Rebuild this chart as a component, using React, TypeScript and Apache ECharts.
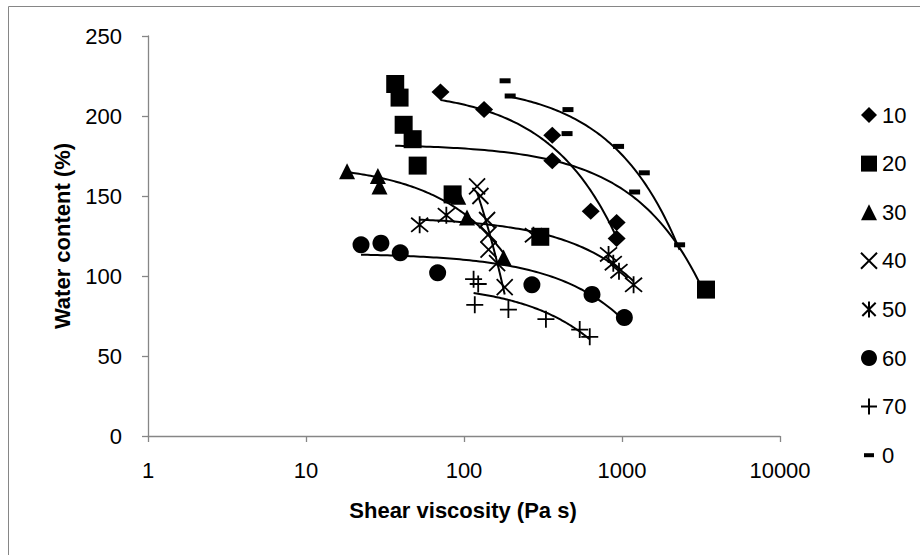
import React, { useEffect, useRef } from "react";
import * as echarts from "echarts";

// ---- data ----
const seriesNames = ["10", "20", "30", "40", "50", "60", "70", "0"];

const s10x = [71, 134, 362, 362, 634, 925, 925];
const s10y = [215, 204, 188, 172, 140.5, 133.5, 123.5];

const s20x = [36.7, 39.1, 41.5, 47.3, 50.9, 84.7, 304, 3400];
const s20y = [220, 211.5, 194.5, 185.5, 169, 151, 124.5, 91.5];

const s30x = [18.2, 28.5, 29.2, 92, 104.5, 178];
const s30y = [165.5, 162.5, 156, 149.5, 136.5, 111.5];

const s40x = [121, 127, 140, 143, 143, 162, 181];
const s40y = [156, 150, 135, 126, 116.5, 108, 93];

const s50x = [52.4, 77.3, 275, 822, 881, 957, 1184];
const s50y = [132, 138, 125.5, 113.5, 108, 103, 94.5];

const s60x = [22.3, 29.8, 39.5, 68.1, 269, 646, 1035];
const s60y = [119.5, 120.5, 114.5, 102, 94.5, 88.5, 74];

const s70x = [115, 123, 117, 191, 330, 540, 625];
const s70y = [98, 95, 82, 79, 73, 66.5, 62];

const s0x = [182, 196, 455, 449, 951, 1384, 1202, 2315];
const s0y = [222, 212.5, 204, 189, 181, 164.5, 152.5, 119.5];

const yTicks = [0, 50, 100, 150, 200, 250];
const xTitle = "Shear viscosity (Pa s)";
const yTitle = "Water content (%)";

const FONT = "'Liberation Sans', Arial, sans-serif";

const X_PATH = "path://M0,0L10,10M10,0L0,10";
const AST_PATH = "path://M0,0L10,10M10,0L0,10M5,-1L5,11";
const PLUS_PATH = "path://M5,0L5,10M0,5L10,5";

type Def = { name: string; xs: number[]; ys: number[]; symbol: string; size: any; stroke?: boolean; icon?: string };

const defs: Def[] = [
  { name: seriesNames[0], xs: s10x, ys: s10y, symbol: "diamond", size: [18, 17] },
  { name: seriesNames[1], xs: s20x, ys: s20y, symbol: "rect", size: 18 },
  { name: seriesNames[2], xs: s30x, ys: s30y, symbol: "triangle", size: 16 },
  { name: seriesNames[3], xs: s40x, ys: s40y, symbol: X_PATH, size: 16, stroke: true },
  { name: seriesNames[4], xs: s50x, ys: s50y, symbol: AST_PATH, size: 17, stroke: true },
  { name: seriesNames[5], xs: s60x, ys: s60y, symbol: "circle", size: 17 },
  { name: seriesNames[6], xs: s70x, ys: s70y, symbol: PLUS_PATH, size: 17, stroke: true },
  { name: seriesNames[7], xs: s0x, ys: s0y, symbol: "rect", size: [11, 5], icon: "path://M0,0M16,16M3,6H13V10H3Z" },
];

// least-squares linear trendline (as in a spreadsheet's linear trendline)
function fit(xs: number[], ys: number[]) {
  const n = xs.length;
  const mx = xs.reduce((a, b) => a + b, 0) / n;
  const my = ys.reduce((a, b) => a + b, 0) / n;
  let sxy = 0, sxx = 0;
  for (let i = 0; i < n; i++) {
    sxy += (xs[i] - mx) * (ys[i] - my);
    sxx += (xs[i] - mx) * (xs[i] - mx);
  }
  const b = sxy / sxx;
  const a = my - b * mx;
  return { a, b, lo: Math.min(...xs), hi: Math.max(...xs) };
}

function trendPoints(xs: number[], ys: number[]) {
  const { a, b, lo, hi } = fit(xs, ys);
  const pts: number[][] = [];
  const N = 80;
  const l0 = Math.log10(lo), l1 = Math.log10(hi);
  for (let i = 0; i <= N; i++) {
    const x = Math.pow(10, l0 + ((l1 - l0) * i) / N);
    pts.push([x, a + b * x]);
  }
  return pts;
}

export default function App() {
  const ref = useRef<HTMLDivElement>(null);
  useEffect(() => {
    if (!ref.current) return;
    const chart = echarts.init(ref.current, undefined, { renderer: "svg" });
    const series: any[] = [];
    defs.forEach((d) => {
      series.push({
        name: d.name + " trend",
        type: "line",
        data: trendPoints(d.xs, d.ys),
        showSymbol: false,
        symbol: "none",
        lineStyle: { color: "#000", width: 2 },
        z: 2,
        silent: true,
      });
    });
    defs.forEach((d) => {
      series.push({
        name: d.name,
        type: "scatter",
        data: d.xs.map((x, i) => [x, d.ys[i]]),
        symbol: d.symbol,
        symbolSize: d.size,
        itemStyle: d.stroke
          ? { color: "#000", borderColor: "#000", borderWidth: 1.8, opacity: 1 }
          : { color: "#000", borderWidth: 0, opacity: 1 },
        z: 3,
      });
    });
    chart.setOption({
      animation: false,
      backgroundColor: "#fff",
      grid: { left: 148, right: 140, top: 36, bottom: 119, containLabel: false },
      xAxis: {
        type: "log",
        logBase: 10,
        min: 1,
        max: 10000,
        axisLine: { show: true, lineStyle: { color: "#868686", width: 1.3 } },
        axisTick: { show: true, length: 6, lineStyle: { color: "#868686", width: 1.3 } },
        minorTick: { show: false },
        splitLine: { show: false },
        axisLabel: {
          fontFamily: FONT,
          fontSize: 22,
          color: "#000",
          margin: 23,
          formatter: (v: number) => String(Math.round(v)),
        },
      },
      yAxis: {
        type: "value",
        min: yTicks[0],
        max: yTicks[yTicks.length - 1],
        interval: 50,
        axisLine: { show: true, lineStyle: { color: "#868686", width: 1.3 } },
        axisTick: { show: true, length: 6, lineStyle: { color: "#868686", width: 1.3 } },
        splitLine: { show: false },
        axisLabel: { fontFamily: FONT, fontSize: 22, color: "#000", margin: 26 },
      },
      legend: {
        orient: "vertical",
        left: 855,
        top: 99,
        itemWidth: 16,
        itemHeight: 16,
        itemGap: 26.6,
        textStyle: { fontFamily: FONT, fontSize: 22, color: "#000" },
        data: defs.map((d) => (d.icon ? { name: d.name, icon: d.icon } : { name: d.name })),
      },
      graphic: [
        {
          type: "rect",
          shape: { x: 8.5, y: 6.5, width: 960, height: 600 },
          style: { fill: "none", stroke: "#868686", lineWidth: 1 },
          silent: true,
        },
        {
          type: "text",
          x: 463,
          y: 510,
          style: { text: xTitle, font: `bold 22px ${FONT}`, fill: "#000", textAlign: "center", textVerticalAlign: "middle" },
        },
        {
          type: "text",
          x: 62,
          y: 236,
          rotation: Math.PI / 2,
          style: { text: yTitle, font: `bold 22px ${FONT}`, fill: "#000", textAlign: "center", textVerticalAlign: "middle" },
        },
      ],
      series,
    });
    return () => chart.dispose();
  }, []);
  return (
    <div
      ref={ref}
      style={{ position: "absolute", left: 0, top: 0, width: 920, height: 555, background: "#fff" }}
    />
  );
}
